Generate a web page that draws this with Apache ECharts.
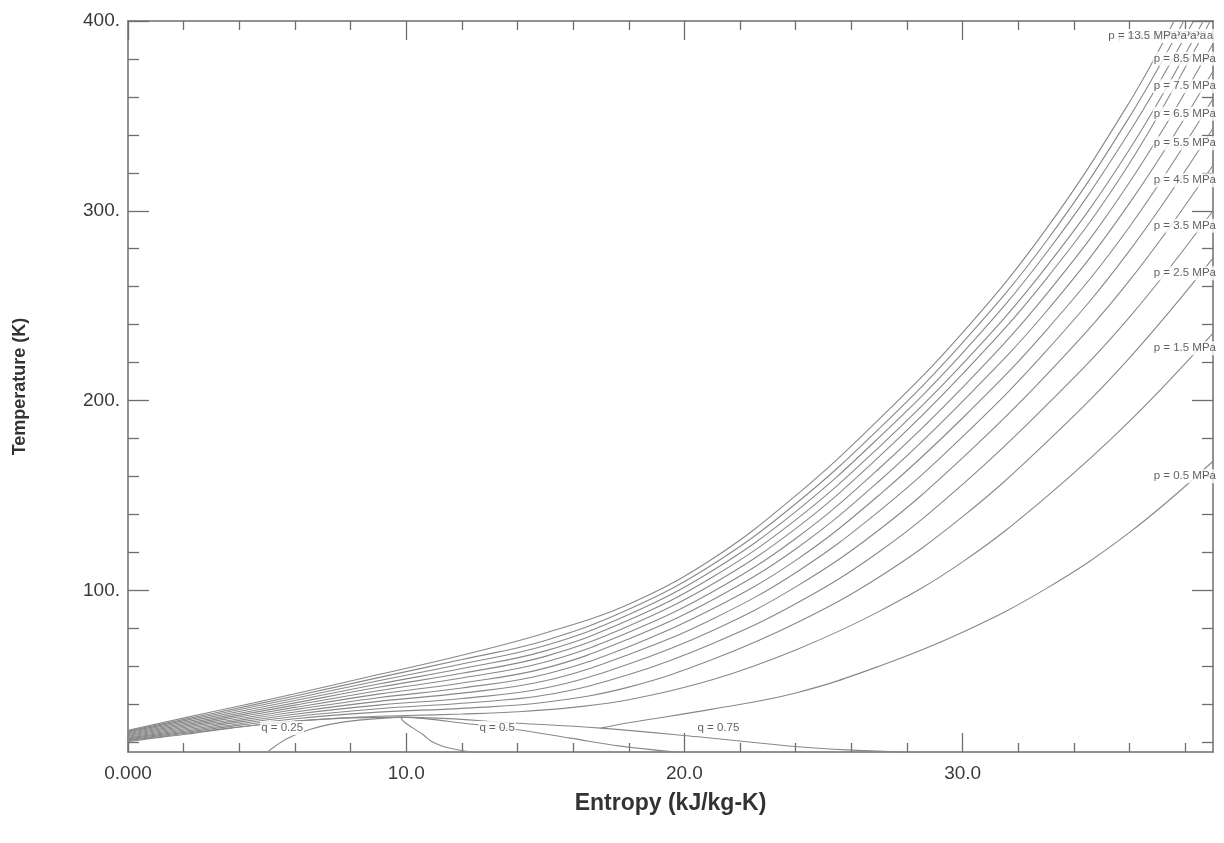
<!DOCTYPE html>
<html>
<head>
<meta charset="utf-8">
<script src="https://cdn.jsdelivr.net/npm/echarts@6/dist/echarts.min.js"></script>
<style>
  html, body { margin: 0; padding: 0; background: #ffffff; }
  #chart { width: 1224px; height: 843px; }
</style>
</head>
<body>
<div id="chart"></div>
<script>
// Isobar pressures (MPa)
const pressures = [0.5, 1.5, 2.5, 3.5, 4.5, 5.5, 6.5, 7.5, 8.5, 9.5, 10.5, 11.5, 12.5, 13.5];

// Isobars as [entropy kJ/kg-K, temperature K]; the 0.5 MPa isobar is drawn from the saturated-vapour line on
const isobar_0_5 = [[17,27.4],[18,30.2],[21,37.4],[24,45.9],[27,60.0],[30,77.9],[33,100.9],[36,130.5],[39,168.0]];
const isobar_1_5 = [[0,20.8],[3,26.3],[6,31.0],[8,33.0],[10,34.0],[12,34.8],[14,36.0],[16,38.3],[18,42.3],[21,52.9],[24,68.6],[27,88.9],[30,115.0],[33,149.1],[36,189.1],[39,235.5]];
const isobar_2_5 = [[0,21.2],[3,27.0],[6,32.3],[9,35.8],[12,37.8],[15,41.0],[18,49.0],[21,63.5],[24,82.6],[27,107.0],[30,138.8],[33,177.8],[36,222.5],[39,275.0]];
const isobar_3_5 = [[0,21.7],[3,27.7],[6,33.5],[9,37.6],[12,40.5],[15,44.8],[18,55.6],[21,71.9],[24,92.9],[27,120.3],[30,155.8],[33,197.3],[36,244.0],[39,300.0]];
const isobar_4_5 = [[0,22.1],[3,28.4],[6,34.7],[9,39.5],[12,43.0],[15,48.5],[18,61.2],[21,78.7],[24,101.8],[27,131.9],[30,169.8],[33,213.2],[36,263.3],[39,324.0]];
const isobar_5_5 = [[0,22.6],[3,29.2],[6,35.9],[9,41.5],[12,45.8],[15,52.3],[18,66.2],[21,84.8],[24,109.3],[27,141.7],[30,181.0],[33,226.0],[36,279.0],[39,343.5]];
const isobar_6_5 = [[0,23.1],[3,30.0],[6,37.1],[9,43.4],[12,48.5],[15,55.8],[18,70.3],[21,90.1],[24,115.8],[27,150.2],[30,190.8],[33,236.9],[36,291.6],[39,359.0]];
const isobar_7_5 = [[0,23.5],[3,30.8],[6,38.3],[9,45.3],[12,51.2],[15,59.0],[18,74.4],[21,94.9],[24,121.8],[27,157.6],[30,199.6],[33,246.8],[36,304.0],[39,373.5]];
const isobar_8_5 = [[0,24.0],[3,31.6],[6,39.5],[9,47.1],[12,53.8],[15,62.2],[18,77.9],[21,99.1],[24,127.3],[27,164.2],[30,206.9],[33,255.8],[36,315.0],[39,388.0]];
const isobar_9_5 = [[0,24.4],[3,32.4],[6,40.7],[9,48.9],[12,56.3],[15,65.2],[18,81.2],[21,103.2],[24,132.5],[27,170.4],[30,214.0],[33,264.0],[36,325.0],[38.9,400]];
const isobar_10_5 = [[0,24.9],[3,33.3],[6,41.9],[9,50.6],[12,58.8],[15,68.1],[18,84.3],[21,106.9],[24,137.1],[27,175.5],[30,219.3],[33,270.3],[36,332.4],[38.65,400]];
const isobar_11_5 = [[0,25.4],[3,34.2],[6,43.1],[9,52.3],[12,61.2],[15,70.9],[18,87.2],[21,110.3],[24,141.5],[27,180.6],[30,225.1],[33,277.6],[36,341.6],[38.3,400]];
const isobar_12_5 = [[0,25.8],[3,35.0],[6,44.3],[9,54.0],[12,63.5],[15,73.6],[18,90.0],[21,113.5],[24,145.6],[27,185.2],[30,230.5],[33,283.8],[36,349.5],[37.95,400]];
const isobar_13_5 = [[0,26.3],[3,35.9],[6,45.5],[9,55.6],[12,65.8],[15,77.5],[18,92.7],[21,116.5],[24,149.9],[27,190.2],[30,235.8],[33,290.3],[36,357.3],[37.6,400]];

const isobars = [isobar_0_5, isobar_1_5, isobar_2_5, isobar_3_5, isobar_4_5, isobar_5_5, isobar_6_5,
                 isobar_7_5, isobar_8_5, isobar_9_5, isobar_10_5, isobar_11_5, isobar_12_5, isobar_13_5];

// Saturation dome and constant-quality lines
const satLiquid = [[-2.8,14.2],[-1.3,17.0],[0,20.3],[2,24.0],[3.7,27.4],[5.6,30.5],[7.6,32.5],[9.8,33.2]];
const satVapor = [[9.8,33.2],[11.5,32.4],[13.4,30.5],[17,27.4],[20.5,22.8],[24.2,17.4],[26.5,15.5],[28.5,14.3]];
const quality_0_25 = [[4.96,14.2],[5.3,18.0],[5.8,22.5],[6.5,26.5],[7.3,29.5],[8.3,31.6],[9.8,33.2]];
const quality_0_5 = [[9.8,33.2],[9.9,31.0],[10.25,27.4],[10.6,24.0],[10.9,20.5],[11.5,17.0],[12.7,14.2]];
const quality_0_75 = [[9.8,33.2],[10.6,32.5],[11.75,30.5],[13.7,27.2],[15.9,22.1],[17.7,17.9],[20.0,14.3]];
const qualityLines = [quality_0_25, quality_0_5, quality_0_75];
const qualityNames = ['q = 0.25', 'q = 0.5', 'q = 0.75'];
const qualityLabelAt = [[5.54,27.4],[13.27,27.4],[21.22,27.4]];

// Axis ticks
const xTickValues = [0, 10, 20, 30];
const xTickLabels = ['0.000', '10.0', '20.0', '30.0'];
const xMinorValues = [2,4,6,8,12,14,16,18,22,24,26,28,32,34,36,38];
const yTickValues = [100, 200, 300, 400];
const yTickLabels = ['100.', '200.', '300.', '400.'];
const yMinorValues = [20,40,60,80,120,140,160,180,220,240,260,280,320,340,360,380];

const FONT = "'Liberation Sans', Arial, sans-serif";
const AXIS_COLOR = '#6e6e6e';
const CURVE_COLOR = '#888888';
const TEXT_COLOR = '#3a3a3a';

function xAxisDef(position, values, length, withLabels) {
  return {
    type: 'value', position: position, min: 0, max: 39,
    axisLine: { show: values === xTickValues, onZero: false, lineStyle: { color: AXIS_COLOR, width: 1.5 } },
    axisTick: { show: true, inside: true, length: length, customValues: values, lineStyle: { color: AXIS_COLOR, width: 1.3 } },
    axisLabel: withLabels ? {
      show: true, customValues: xTickValues, margin: 12,
      formatter: v => xTickLabels[xTickValues.indexOf(v)] || '',
      color: TEXT_COLOR, fontSize: 19, fontFamily: FONT
    } : { show: false },
    splitLine: { show: false }
  };
}
function yAxisDef(position, values, length, withLabels) {
  return {
    type: 'value', position: position, min: 14.8, max: 400,
    axisLine: { show: values === yTickValues, onZero: false, lineStyle: { color: AXIS_COLOR, width: 1.5 } },
    axisTick: { show: true, inside: true, length: length, customValues: values, lineStyle: { color: AXIS_COLOR, width: 1.3 } },
    axisLabel: withLabels ? {
      show: true, customValues: yTickValues, margin: 8,
      formatter: v => yTickLabels[yTickValues.indexOf(v)] || '',
      color: TEXT_COLOR, fontSize: 19, fontFamily: FONT
    } : { show: false },
    splitLine: { show: false }
  };
}

const xAxes = [
  xAxisDef('bottom', xTickValues, 19, true),
  xAxisDef('bottom', xMinorValues, 9, false),
  xAxisDef('top', xTickValues, 19, false),
  xAxisDef('top', xMinorValues, 9, false)
];
Object.assign(xAxes[0], {
  name: 'Entropy (kJ/kg-K)', nameLocation: 'middle', nameGap: 40,
  nameTextStyle: { fontSize: 23, fontWeight: 'bold', color: '#333', fontFamily: FONT }
});
const yAxes = [
  yAxisDef('left', yTickValues, 21, true),
  yAxisDef('left', yMinorValues, 11, false),
  yAxisDef('right', yTickValues, 21, false),
  yAxisDef('right', yMinorValues, 11, false)
];
Object.assign(yAxes[0], {
  name: 'Temperature (K)', nameLocation: 'middle', nameGap: 99, nameRotate: 90,
  nameTextStyle: { fontSize: 18, fontWeight: 'bold', color: '#333', fontFamily: FONT }
});

function curve(data) {
  return {
    type: 'line', data: data, xAxisIndex: 0, yAxisIndex: 0,
    smooth: 0.4, showSymbol: false, silent: true,
    lineStyle: { color: CURVE_COLOR, width: 1.1 }, z: 2
  };
}

const series = [];
isobars.forEach(d => series.push(curve(d)));
series.push(curve(satLiquid));
series.push(curve(satVapor));
qualityLines.forEach(d => series.push(curve(d)));

const smallLabel = {
  show: true, position: 'inside', verticalAlign: 'middle',
  fontSize: 11.5, fontFamily: FONT, color: TEXT_COLOR,
  backgroundColor: '#ffffff', padding: [1, 1]
};

// isobar captions at the end of each curve
series.push({
  type: 'scatter', xAxisIndex: 0, yAxisIndex: 0, silent: true, z: 5,
  symbolSize: 1, itemStyle: { color: 'rgba(0,0,0,0)' },
  data: isobars.map((d, i) => ({
    value: d[d.length - 1],
    label: Object.assign({}, smallLabel, { align: 'right', offset: [4, 15], formatter: 'p = ' + pressures[i] + ' MPa' })
  }))
});
// quality captions
series.push({
  type: 'scatter', xAxisIndex: 0, yAxisIndex: 0, silent: true, z: 5,
  symbolSize: 1, itemStyle: { color: 'rgba(0,0,0,0)' },
  data: qualityLabelAt.map((p, i) => ({
    value: p,
    label: Object.assign({}, smallLabel, { align: 'center', formatter: qualityNames[i] })
  }))
});

const chart = echarts.init(document.getElementById('chart'), null, { renderer: 'canvas' });
chart.setOption({
  animation: false,
  backgroundColor: '#ffffff',
  grid: { left: 128, right: 11, top: 21, bottom: 91, containLabel: false },
  xAxis: xAxes,
  yAxis: yAxes,
  series: series
});
</script>
</body>
</html>
